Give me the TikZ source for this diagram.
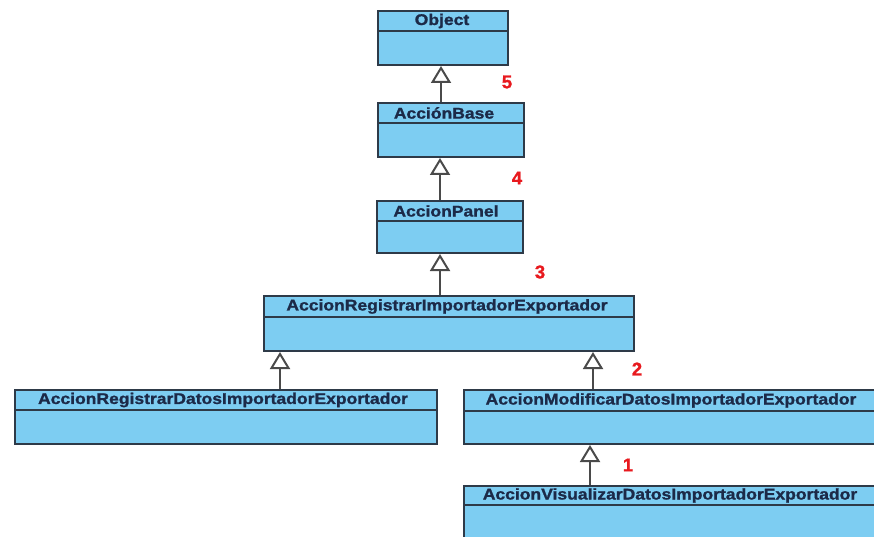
\documentclass[tikz,border=0pt]{standalone}
\usepackage{fontspec}
\setmainfont{Liberation Sans}
\newfontfamily\headfont[FakeBold=1.2]{Liberation Sans Bold}
\usetikzlibrary{arrows.meta}
\definecolor{boxfill}{HTML}{7DCDF2}
\definecolor{boxline}{HTML}{2E3A48}
\definecolor{headtext}{HTML}{1C2A48}
\definecolor{arrowgray}{HTML}{4A4A4A}
\definecolor{numred}{HTML}{E8191E}
\tikzset{
  umlbox/.style={draw=boxline, line width=2pt, fill=boxfill, rectangle, inner sep=0pt, anchor=north west},
  headlabel/.style={text=headtext, font=\fontsize{15.5}{15.5}\headfont, inner sep=0pt, anchor=center},
  divider/.style={draw=boxline, line width=1.6pt},
  inherit/.style={draw=arrowgray, line width=2.2pt, -{Triangle[open, length=17pt, width=20pt, line width=2pt, fill=white]}},
  stepnum/.style={text=numred, font=\fontsize{18.5}{18.5}\headfont, inner sep=0pt}
}
\newcommand{\stretchtext}[1]{\scalebox{1.13}[1]{#1}}
\begin{document}
\begin{tikzpicture}[x=1pt, y=-1pt]
\useasboundingbox (0,0) rectangle (874,537);
\clip (0,0) rectangle (874,537);
\fill[white] (0,0) rectangle (874,537);

% Object
\node[umlbox, minimum width=130pt, minimum height=54pt] (obj) at (377,10) {};
\draw[divider] (377,31) -- (507,31);
\node[headlabel] (objt) at (442,21) {\stretchtext{Object}};

% AccionBase
\node[umlbox, minimum width=146pt, minimum height=54pt] (base) at (377,102) {};
\draw[divider] (377,123) -- (523,123);
\node[headlabel] (baset) at (444,113) {\stretchtext{AcciónBase}};

% AccionPanel
\node[umlbox, minimum width=146pt, minimum height=52pt] (panel) at (376,200) {};
\draw[divider] (376,221) -- (522,221);
\node[headlabel] (panelt) at (446,211) {\stretchtext{AccionPanel}};

% AccionRegistrarImportadorExportador
\node[umlbox, minimum width=370pt, minimum height=55pt] (reg) at (263,295) {};
\draw[divider] (263,317) -- (633,317);
\node[headlabel] (regt) at (447,306.5) {\stretchtext{AccionRegistrarImportadorExportador}};

% AccionRegistrarDatosImportadorExportador
\node[umlbox, minimum width=422pt, minimum height=54pt] (regd) at (14,389) {};
\draw[divider] (14,410) -- (436,410);
\node[headlabel] (regdt) at (223,400) {\stretchtext{AccionRegistrarDatosImportadorExportador}};

% AccionModificarDatosImportadorExportador
\node[umlbox, minimum width=420pt, minimum height=54pt] (mod) at (463,389) {};
\draw[divider] (463,411) -- (883,411);
\node[headlabel] (modt) at (671,400.5) {\stretchtext{AccionModificarDatosImportadorExportador}};

% AccionVisualizarDatosImportadorExportador
\node[umlbox, minimum width=420pt, minimum height=70pt] (vis) at (463,485) {};
\draw[divider] (463,505) -- (883,505);
\node[headlabel] (vist) at (670,495.5) {\stretchtext{AccionVisualizarDatosImportadorExportador}};

% connectors
\draw[inherit] (base.north -| 441,0) -- (obj.south -| 441,0);
\draw[inherit] (panel.north -| 440,0) -- (base.south -| 440,0);
\draw[inherit] (reg.north -| 440,0) -- (panel.south -| 440,0);
\draw[inherit] (regd.north -| 280,0) -- (reg.south -| 280,0);
\draw[inherit] (mod.north -| 593,0) -- (reg.south -| 593,0);
\draw[inherit] (vis.north -| 590,0) -- (mod.south -| 590,0);

% numbers
\node[stepnum] (n5) at (507,82) {5};
\node[stepnum] (n4) at (517,178) {4};
\node[stepnum] (n3) at (540,272) {3};
\node[stepnum] (n2) at (637,369) {2};
\node[stepnum] (n1) at (628,465) {1};
\end{tikzpicture}
\end{document}
